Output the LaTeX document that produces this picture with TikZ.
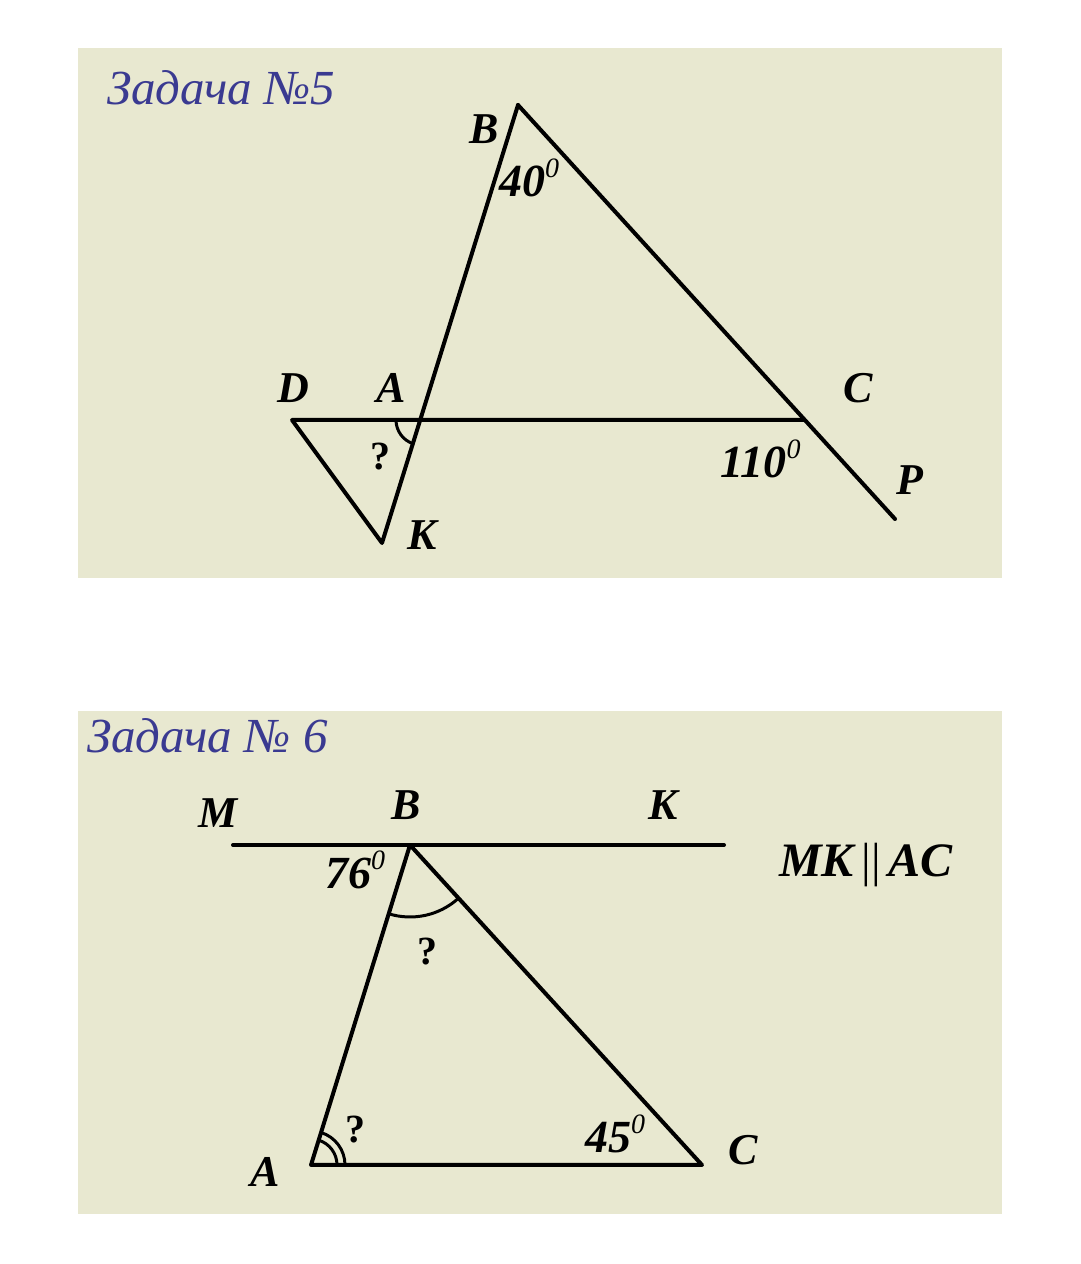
\documentclass[tikz,border=0pt]{standalone}
\usepackage{fontspec}
\setmainfont{Liberation Serif}
\usepackage{xcolor}
\usetikzlibrary{positioning}
\definecolor{paper}{RGB}{232,232,208}
\definecolor{titleblue}{RGB}{58,58,145}
\newcommand{\angdeg}[1]{#1\raisebox{0.42em}{\fontsize{28}{30}\selectfont\mdseries 0}}

\begin{document}
\begin{tikzpicture}[x=1pt,y=1pt,line join=round]
    \tikzset{
        panel/.style={fill=paper, draw=none},
        side/.style={line width=4pt, line cap=round},
        mark arc/.style={line width=3pt},
        pt label/.style={font=\fontsize{44}{48}\selectfont\bfseries\itshape, inner sep=0pt},
        q label/.style={font=\fontsize{40}{44}\selectfont\bfseries, inner sep=0pt},
        ang label/.style={font=\fontsize{46}{50}\selectfont\bfseries\itshape, inner sep=0pt, anchor=base west},
        title node/.style={font=\fontsize{49}{53}\selectfont\itshape, text=titleblue, inner sep=0pt, anchor=base west}
      }
\fill[white] (0,0) rectangle (1080,1264);
\useasboundingbox (0,0) rectangle (1080,1264);
\fill[panel] (78,686) rectangle (1002,1216);
\fill[panel] (78,50) rectangle (1002,553);
% problem 5
\node[title node] (title5) at (107,1159) {Задача №5};
\coordinate (B) at (518,1159);
\coordinate (A) at (421,844);
\coordinate (K) at (382,721);
\coordinate (D) at (292,844);
\coordinate (C) at (804,844);
\coordinate (P) at (895,745);
\draw[side] (B) -- (K) -- (D) -- (C);
\draw[side] (B) -- (P);
\draw[mark arc] (A) ++(180:25) arc[start angle=180, end angle=252, radius=25];
\node[pt label] (lB) at (484,1135) {B};
\node[pt label] (lD) at (293,876) {D};
\node[pt label] (lA) at (391,876) {A};
\node[pt label] (lC) at (858,876) {C};
\node[pt label] (lP) at (910,784) {P};
\node[pt label] (lK) at (422,729) {K};
\node[q label] (q5) at (380,807) {?};
\node[ang label] (a40) at (499,1067) {\angdeg{40}};
\node[ang label] (a110) at (720,786) {\angdeg{110}};
% problem 6
\node[title node] (title6) at (87,511) {Задача № 6};
\coordinate (M2) at (233,419);
\coordinate (K2) at (724,419);
\coordinate (B2) at (410,419);
\coordinate (A2) at (311,99);
\coordinate (C2) at (702,99);
\draw[side] (M2) -- (K2);
\draw[side] (B2) -- (A2) -- (C2) -- cycle;
\draw[mark arc] (B2) ++(252.8:72) arc[start angle=252.8, end angle=312.4, radius=72];
\draw[mark arc] (A2) ++(0:26) arc[start angle=0, end angle=72.8, radius=26];
\draw[mark arc] (A2) ++(0:34) arc[start angle=0, end angle=72.8, radius=34];
\node[pt label] (lM2) at (218,451) {M};
\node[pt label] (lB2) at (406,459) {B};
\node[pt label] (lK2) at (663,459) {K};
\node[pt label] (lA2) at (265,92) {A};
\node[pt label] (lC2) at (743,114) {C};
\node[pt label, font=\fontsize{48}{52}\selectfont\bfseries\itshape] (par) at (866,399) {MK\,{\mdseries\upshape||}\,AC};
\node[q label] (qB) at (427,312) {?};
\node[q label] (qA) at (355,134) {?};
\node[ang label] (a76) at (325,375) {\angdeg{76}};
\node[ang label] (a45) at (585,111) {\angdeg{45}};
\end{tikzpicture}
\end{document}
